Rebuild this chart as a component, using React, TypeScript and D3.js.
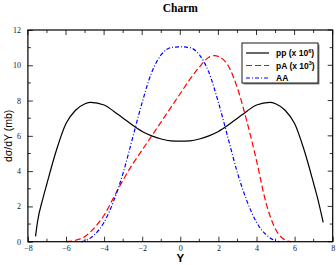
import { useRef, useEffect } from "react";
import * as d3 from "d3";

// pp (x 10^6) - black solid
const ppY: number[] = [-7.6, -7.5, -7.2, -7.0, -6.5, -6.0, -5.5, -5.0, -4.7, -4.0, -3.5, -3.0, -2.5, -2.0, -1.5, -1.0, -0.5, 0, 0.5, 1.0, 1.5, 2.0, 2.5, 3.0, 3.5, 4.0, 4.7, 5.0, 5.5, 6.0, 6.5, 7.0, 7.2, 7.5];
const ppV: number[] = [0.3, 1.1, 2.5, 3.3, 5.2, 6.7, 7.45, 7.82, 7.9, 7.75, 7.4, 7.0, 6.6, 6.25, 6.0, 5.82, 5.72, 5.7, 5.72, 5.82, 6.0, 6.25, 6.6, 7.0, 7.4, 7.75, 7.9, 7.82, 7.45, 6.7, 5.2, 3.3, 2.5, 1.1];

// pA (x 10^3) - red dashed
const pAY: number[] = [-6.0, -5.5, -5.0, -4.5, -4.0, -3.5, -3.0, -2.5, -2.0, -1.5, -1.0, -0.5, 0, 0.5, 1.0, 1.5, 1.8, 2.0, 2.5, 3.0, 3.5, 4.0, 4.5, 5.0, 5.5, 5.8];
const pAV: number[] = [0, 0.08, 0.3, 0.8, 1.5, 2.5, 3.5, 4.4, 5.2, 6.0, 6.8, 7.6, 8.4, 9.2, 9.9, 10.45, 10.55, 10.5, 10.0, 8.7, 6.8, 4.6, 2.2, 0.7, 0.1, 0];

// AA - blue dash-dot
const aaY: number[] = [-5.2, -5.0, -4.5, -4.0, -3.5, -3.0, -2.5, -2.0, -1.5, -1.0, -0.5, 0, 0.5, 1.0, 1.5, 2.0, 2.5, 3.0, 3.5, 4.0, 4.5, 5.0, 5.2];
const aaV: number[] = [0, 0.05, 0.4, 1.1, 2.3, 3.9, 5.9, 7.9, 9.6, 10.6, 11.0, 11.05, 11.0, 10.6, 9.6, 7.9, 5.9, 3.9, 2.3, 1.1, 0.4, 0.05, 0];

const xTicks: number[] = [-8, -6, -4, -2, 0, 2, 4, 6, 8];
const yTicks: number[] = [0, 2, 4, 6, 8, 10, 12];

export default function App() {
    const svgRef = useRef<SVGSVGElement | null>(null);

    useEffect(() => {
        if (!svgRef.current) return;
        const width = 336;
        const height = 265;
        const margin = { top: 30, right: 3.3, bottom: 23.3, left: 27.9 };
        const plotW = width - margin.left - margin.right;
        const plotH = height - margin.top - margin.bottom;

        const svg = d3.select(svgRef.current);
        svg.selectAll("*").remove();

        const xScale = d3.scaleLinear().domain([-8, 8]).range([0, plotW]);
        const yScale = d3.scaleLinear().domain([0, 12]).range([plotH, 0]);

        const g = svg.append("g").attr("transform", `translate(${margin.left},${margin.top})`);

        // Title
        svg.append("text")
            .attr("x", margin.left + xScale(0))
            .attr("y", 12)
            .attr("text-anchor", "middle")
            .style("font-family", "Liberation Serif, serif")
            .style("font-weight", "bold")
            .style("font-size", "11.5px")
            .text("Charm");

        // Curves
        const line = d3.line<[number, number]>()
            .x(d => xScale(d[0]))
            .y(d => yScale(d[1]))
            .curve(d3.curveMonotoneX);

        const series = [
            { xs: ppY, vs: ppV, color: "#000", dash: "none" },
            { xs: pAY, vs: pAV, color: "#ff0000", dash: "6,3" },
            { xs: aaY, vs: aaV, color: "#0000ff", dash: "4,2,1,2" },
        ];

        series.forEach(s => {
            g.append("path")
                .datum(s.xs.map((x, i) => [x, s.vs[i]] as [number, number]))
                .attr("d", line)
                .attr("fill", "none")
                .attr("stroke", s.color)
                .attr("stroke-width", 1.2)
                .attr("stroke-dasharray", s.dash);
        });

        // Axes with inward ticks on all sides
        const tickColor = "#000";
        const major = 5;
        const minor = 3;
        const xMinor = d3.range(-7, 8, 2);
        const yMinor = d3.range(1, 12, 2);

        const axisBottom = d3.axisBottom(xScale).tickValues(xTicks).tickSize(-major).tickPadding(4)
            .tickFormat(d3.format("d"));
        const bx = g.append("g").attr("transform", `translate(0,${plotH})`).call(axisBottom);
        bx.select(".domain").remove();
        bx.selectAll("text")
            .style("font-family", "Liberation Serif, serif")
            .style("font-size", "8px")
            .attr("fill", "#222");

        const axisLeft = d3.axisLeft(yScale).tickValues(yTicks).tickSize(-major).tickPadding(major + 2)
            .tickFormat(d3.format("d"));
        const ly = g.append("g").call(axisLeft);
        ly.select(".domain").remove();
        ly.selectAll("text")
            .style("font-family", "Liberation Serif, serif")
            .style("font-size", "8px")
            .attr("fill", "#222");

        // remaining ticks
        const tickG = g.append("g").attr("stroke", tickColor).attr("stroke-width", 0.8);
        xTicks.forEach(v => {
            tickG.append("line").attr("x1", xScale(v)).attr("x2", xScale(v)).attr("y1", 0).attr("y2", major);
        });
        xMinor.forEach(v => {
            tickG.append("line").attr("x1", xScale(v)).attr("x2", xScale(v)).attr("y1", plotH).attr("y2", plotH - minor);
            tickG.append("line").attr("x1", xScale(v)).attr("x2", xScale(v)).attr("y1", 0).attr("y2", minor);
        });
        yTicks.forEach(v => {
            tickG.append("line").attr("x1", plotW).attr("x2", plotW - major).attr("y1", yScale(v)).attr("y2", yScale(v));
        });
        yMinor.forEach(v => {
            tickG.append("line").attr("x1", 0).attr("x2", minor).attr("y1", yScale(v)).attr("y2", yScale(v));
            tickG.append("line").attr("x1", plotW).attr("x2", plotW - minor).attr("y1", yScale(v)).attr("y2", yScale(v));
        });
        g.selectAll(".tick line").attr("stroke-width", 0.8);

        // frame
        g.append("rect")
            .attr("width", plotW)
            .attr("height", plotH)
            .attr("fill", "none")
            .attr("stroke", "#000")
            .attr("stroke-width", 1.2);

        // Axis labels
        svg.append("text")
            .attr("x", margin.left + xScale(0))
            .attr("y", 262)
            .attr("text-anchor", "middle")
            .style("font-family", "Liberation Sans, Arial, sans-serif")
            .style("font-weight", "bold")
            .style("font-size", "11.5px")
            .text("Y");

        svg.append("text")
            .attr("transform", `translate(12,${margin.top + plotH / 2}) rotate(-90)`)
            .attr("text-anchor", "middle")
            .style("font-family", "Liberation Sans, Arial, sans-serif")
            .style("font-size", "10.5px")
            .text("dσ/dY (mb)");

        // Legend
        const lg = svg.append("g");
        lg.append("rect")
            .attr("x", 243.5).attr("y", 44.5).attr("width", 76).attr("height", 40)
            .attr("fill", "#888");
        lg.append("rect")
            .attr("x", 242).attr("y", 43).attr("width", 76).attr("height", 40)
            .attr("fill", "#fff").attr("stroke", "#000").attr("stroke-width", 0.9);

        const entries = [
            { label: "pp (x 10", sup: "6", color: "#000", dash: "none" },
            { label: "pA (x 10", sup: "3", color: "#ff0000", dash: "6,3" },
            { label: "AA", sup: "", color: "#0000ff", dash: "4,2,1,2" },
        ];
        entries.forEach((e, i) => {
            const yy = 53 + i * 12.5;
            lg.append("line")
                .attr("x1", 246).attr("x2", 269).attr("y1", yy).attr("y2", yy)
                .attr("stroke", e.color).attr("stroke-width", 1.2).attr("stroke-dasharray", e.dash);
            const t = lg.append("text")
                .attr("x", 276).attr("y", yy + 3)
                .style("font-family", "Liberation Sans, Arial, sans-serif")
                .style("font-weight", "bold")
                .style("font-size", "8.5px");
            t.append("tspan").text(e.label);
            if (e.sup) {
                t.append("tspan").attr("dy", -3.5).style("font-size", "5.5px").text(e.sup);
                t.append("tspan").attr("dy", 3.5).text(")");
            }
        });
    }, []);

    return (
        <div style={{ position: "absolute", left: 0, top: 0 }}>
            <svg ref={svgRef} width={336} height={265} style={{ display: "block", background: "#fff" }}></svg>
        </div>
    );
}
